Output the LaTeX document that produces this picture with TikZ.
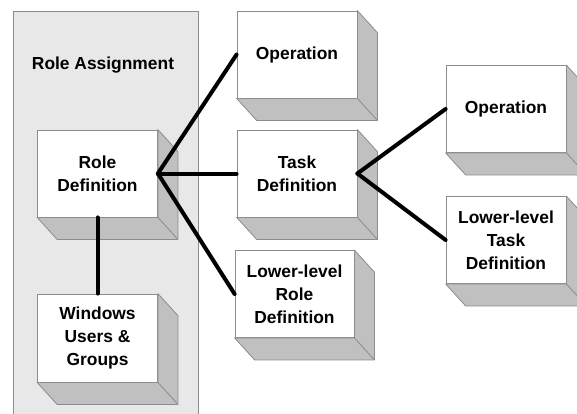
\documentclass[tikz,border=0pt]{standalone}
\usepackage{fontspec}
\setmainfont{Liberation Sans}
\usetikzlibrary{calc}
\definecolor{bggray}{HTML}{E8E8E8}
\definecolor{sidegray}{HTML}{C0C0C0}
\definecolor{edgegray}{HTML}{8C8C8C}
\begin{document}
\begin{tikzpicture}[x=1pt,y=-1pt,
  face/.style={draw=edgegray, line width=0.8pt, fill=white, minimum width=120pt,
    minimum height=87pt, align=center, inner sep=0pt,
    font=\fontsize{17.4}{23}\selectfont\bfseries},
  sideface/.style={fill=sidegray, draw=edgegray, line width=0.8pt, line join=round},
  link/.style={line width=4pt, line cap=round},
  lbl/.style={font=\fontsize{17.4}{23}\selectfont\bfseries}]
\clip (0,0) rectangle (577,413);
\filldraw[fill=bggray, draw=edgegray, line width=0.8pt] (13,11) rectangle (198,430);
\node[lbl] (ra) at (103,65) {Role Assignment};
\node[face] (rd) at (97.5,173.5) {Role\\Definition};
\node[face, minimum height=88pt] (wug) at (97.5,338) {Windows\\Users \&\\Groups};
\node[face] (op1) at (297,54.5) {Operation};
\node[face] (td) at (297,173.5) {Task\\Definition};
\node[face, minimum width=119pt] (lrd) at (294.5,294) {Lower-level\\Role\\Definition};
\node[face] (op2) at (506,109) {Operation};
\node[face] (ltd) at (506,240) {Lower-level\\Task\\Definition};
\foreach \n in {rd,wug,op1,td,lrd,op2,ltd}{
  \filldraw[sideface] (\n.north east) -- ++(20,22) -- ($(\n.south east)+(20,22)$)
    -- ($(\n.south west)+(20,22)$) -- (\n.south west) -- (\n.south east) -- cycle;
  \draw[draw=edgegray, line width=0.8pt] (\n.south east) -- ++(20,22);
}
\draw[link] (rd.east) -- (op1.west);
\draw[link] (rd.east) -- (td.west);
\draw[link] (rd.east) -- (lrd.west);
\draw[link] (td.east) -- (op2.west);
\draw[link] (td.east) -- (ltd.west);
\draw[link] (rd.south) -- (wug.north);
\end{tikzpicture}
\end{document}
